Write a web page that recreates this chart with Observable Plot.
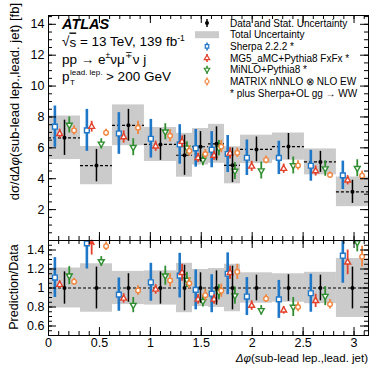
<!DOCTYPE html>
<html><head><meta charset="utf-8">
<script src="https://cdn.jsdelivr.net/npm/d3@7"></script>
<script src="https://cdn.jsdelivr.net/npm/@observablehq/plot@0.6"></script>
<style>
body{margin:0;background:#fff;}
#chart{position:relative;width:371px;height:365px;font-family:"Liberation Sans",Arial,Helvetica,sans-serif;overflow:hidden;background:#fff;}
#chart svg{position:absolute;left:0;overflow:visible;}
</style></head><body><div id="chart"></div>
<script>
// ---- data ----
const binEdges = [0, 0.314, 0.628, 0.942, 1.257, 1.414, 1.571, 1.728, 1.885, 2.199, 2.513, 2.827, 3.142];
const dataVal  = [6.65, 4.85, 7.46, 6.22, 5.52, 6.07, 6.26, 4.87, 5.90, 6.08, 5.09, 3.15];
const dataStat = [1.14, 1.05, 1.03, 1.03, 1.30, 0.98, 1.10, 1.12, 0.80, 0.85, 0.68, 0.75];
const dataTot  = [1.41, 1.24, 1.32, 1.10, 1.42, 1.18, 1.26, 1.20, 0.92, 0.88, 0.84, 0.96];
const ratioStat = [0.17, 0.22, 0.15, 0.17, 0.24, 0.16, 0.18, 0.23, 0.135, 0.14, 0.135, 0.22];
const ratioTot  = [0.21, 0.255, 0.175, 0.18, 0.26, 0.195, 0.205, 0.25, 0.16, 0.15, 0.165, 0.31];

const sherpaVal   = [7.37, 7.13, 6.93, 6.59, 6.22, 5.97, 5.88, 5.60, 5.36, 5.35, 4.84, 4.22];
const sherpaErr   = [1.34, 1.36, 1.35, 1.25, 1.28, 1.22, 1.17, 1.20, 1.15, 1.08, 1.00, 0.92];
const sherpaRatio = [1.11, 1.47, 0.93, 1.06, 1.13, 0.98, 0.94, 1.15, 0.91, 0.88, 0.945, 1.34];
const sherpaRErr  = [0.21, 0.27, 0.175, 0.20, 0.235, 0.21, 0.20, 0.22, 0.20, 0.20, 0.20, 0.29];

const mg5Val   = [6.91, 7.37, 6.70, 6.10, 6.40, 5.35, 5.50, 5.64, 4.80, 4.65, 4.50, 3.90];
const mg5Err   = [0.30, 0.35, 0.40, 0.33, 0.38, 0.30, 0.30, 0.36, 0.33, 0.30, 0.33, 0.30];
const mg5Ratio = [1.035, 1.52, 0.89, 0.985, 1.16, 0.88, 0.88, 1.16, 0.815, 0.765, 0.865, 1.27];
const mg5RErr  = [0.04, 0.07, 0.05, 0.05, 0.09, 0.05, 0.05, 0.07, 0.05, 0.04, 0.07, 0.13];

const minloVal   = [7.48, 6.26, 6.04, 7.04, 6.00, 5.22, 5.98, 4.50, 4.53, 4.86, 4.66, 4.68];
const minloErr   = [0.52, 0.33, 0.55, 0.52, 0.40, 0.38, 0.50, 0.55, 0.55, 0.55, 0.50, 0.55];
const minloRatio = [1.13, 1.28, 0.82, 1.13, 1.085, 0.86, 0.955, 0.92, 0.765, 0.80, 0.915, 1.48];
const minloRErr  = [0.095, 0.05, 0.08, 0.10, 0.08, 0.06, 0.08, 0.09, 0.05, 0.10, 0.10, 0.10];

const matrixVal   = [7.13, 6.98, 7.30, 6.78, 5.80, 5.60, 6.08, 5.68, 5.22, 4.86, 4.24, 4.20];
const matrixErr   = [0.30, 0.23, 0.43, 0.40, 0.35, 0.30, 0.40, 0.30, 0.25, 0.30, 0.20, 0.30];
const matrixRatio = [1.067, 1.44, 0.975, 1.08, 1.05, 0.925, 0.972, 1.17, 0.888, 0.80, 0.83, 1.33];
const matrixRErr  = [0.035, 0.045, 0.05, 0.07, 0.06, 0.06, 0.07, 0.08, 0.04, 0.05, 0.05, 0.11];

const xTickLabels = [0, 0.5, 1, 1.5, 2, 2.5, 3];
const yTopTickLabels = [2, 4, 6, 8, 10, 12, 14];
const yRatioTickLabels = [0.6, 0.8, 1, 1.2, 1.4];

const legendLabels = ["Data and Stat. Uncertainty", "Total Uncertainty", "Sherpa 2.2.2 *",
  "MG5_aMC+Pythia8 FxFx *", "MiNLO+Pythia8 *", "MATRIX nNNLO \u2297 NLO EW", "* plus Sherpa+OL gg \u2192 WW"];

// ---- style ----
const FONT = "'Liberation Sans', Arial, Helvetica, sans-serif";
const GRAY = "#cbcbcb";
const W = 371, ML = 48, MR = 3;
const TOP_H = 240, TOP_MT = 15;
const R_H = 125, R_MB = 30, R_TOP = 240;
const xDomain = [binEdges[0], binEdges[binEdges.length - 1]];
const yTopDomain = [0, 14.57];
const yRatioDomain = [0.5, 1.5];

const triDown = {draw(ctx, size) {
  const y = -Math.sqrt(size / (Math.sqrt(3) * 3));
  ctx.moveTo(0, -2 * y); ctx.lineTo(-Math.sqrt(3) * y, y); ctx.lineTo(Math.sqrt(3) * y, y); ctx.closePath();
}};

const series = [
  {name: legendLabels[2], val: sherpaVal, err: sherpaErr, ratio: sherpaRatio, rerr: sherpaRErr, color: "#1f77c8", symbol: "square", r: 2.7, off: -0.3, sw: 2.6},
  {name: legendLabels[3], val: mg5Val, err: mg5Err, ratio: mg5Ratio, rerr: mg5RErr, color: "#e3412b", symbol: "triangle", r: 2.2, off: -0.15, sw: 1.8},
  {name: legendLabels[4], val: minloVal, err: minloErr, ratio: minloRatio, rerr: minloRErr, color: "#2f8e2f", symbol: triDown, r: 2.2, off: 0.15, sw: 1.8},
  {name: legendLabels[5], val: matrixVal, err: matrixErr, ratio: matrixRatio, rerr: matrixRErr, color: "#f2863e", symbol: "circle", r: 2.3, off: 0.3, sw: 1.8}
];

const bins = dataVal.map((v, i) => ({
  x1: binEdges[i], x2: binEdges[i + 1], c: (binEdges[i] + binEdges[i + 1]) / 2, w: binEdges[i + 1] - binEdges[i],
  v, stat: dataStat[i], tot: dataTot[i], rstat: ratioStat[i], rtot: ratioTot[i]
}));
series.forEach(s => {
  s.pts = bins.map((b, i) => ({x: b.c + s.off * b.w, v: s.val[i], e: s.err[i], r: s.ratio[i], re: s.rerr[i]}));
});

const xMinor = d3.range(0, 3.15, 0.1);
function tickMarks(plotH, plotW, yMajor, yMinor) {
  const mj = 8, mn = 4;
  return [
    Plot.ruleX(xTickLabels, {x: d => d, insetTop: plotH - mj, stroke: "#000"}),
    Plot.ruleX(xTickLabels, {x: d => d, insetBottom: plotH - mj, stroke: "#000"}),
    Plot.ruleX(xMinor, {x: d => d, insetTop: plotH - mn, stroke: "#000"}),
    Plot.ruleX(xMinor, {x: d => d, insetBottom: plotH - mn, stroke: "#000"}),
    Plot.ruleY(yMajor, {y: d => d, insetRight: plotW - mj, stroke: "#000"}),
    Plot.ruleY(yMajor, {y: d => d, insetLeft: plotW - mj, stroke: "#000"}),
    Plot.ruleY(yMinor, {y: d => d, insetRight: plotW - mn, stroke: "#000"}),
    Plot.ruleY(yMinor, {y: d => d, insetLeft: plotW - mn, stroke: "#000"})
  ];
}
const plotW = W - ML - MR;

// ---- top panel ----
const topMarks = [
  Plot.rect(bins, {x1: "x1", x2: "x2", y1: d => d.v - d.tot, y2: d => d.v + d.tot, fill: GRAY}),
  Plot.ruleY(bins, {x1: "x1", x2: "x2", y: "v", stroke: "#000", strokeWidth: 1.2, strokeDasharray: "3,2"})
];
series.forEach(s => {
  topMarks.push(Plot.ruleX(s.pts, {x: "x", y1: d => d.v - d.e, y2: d => d.v + d.e, stroke: s.color, strokeWidth: s.sw}));
  topMarks.push(Plot.dot(s.pts, {x: "x", y: "v", symbol: s.symbol, r: s.r, stroke: s.color, fill: "white", strokeWidth: 1.4}));
});
topMarks.push(
  Plot.ruleX(bins, {x: "c", y1: d => d.v - d.stat, y2: d => d.v + d.stat, stroke: "#000", strokeWidth: 1.5}),
  Plot.dot(bins, {x: "c", y: "v", r: 2, fill: "#000"}),
  ...tickMarks(TOP_H - TOP_MT, plotW, d3.range(0, 14.6, 2), d3.range(0, 14.6, 0.5)),
  Plot.text(yTopTickLabels, {y: d => d, text: d => String(d), frameAnchor: "left", textAnchor: "end", dx: -4, fontSize: 12.5}),
  Plot.frame({stroke: "#000"})
);
const topPlot = Plot.plot({
  width: W, height: TOP_H, marginTop: TOP_MT, marginBottom: 0, marginLeft: ML, marginRight: MR,
  x: {domain: xDomain, axis: null}, y: {domain: yTopDomain, axis: null},
  style: {background: "transparent", overflow: "visible", fontFamily: FONT},
  marks: topMarks
});
topPlot.style.top = "0px";

// ---- ratio panel ----
const [rlo, rhi] = yRatioDomain;
const clampR = v => Math.max(rlo, Math.min(rhi, v));
const ratioMarks = [
  Plot.rect(bins, {x1: "x1", x2: "x2", y1: d => 1 - d.rtot, y2: d => 1 + d.rtot, fill: GRAY}),
  Plot.ruleY([1], {stroke: "#000", strokeWidth: 1.2, strokeDasharray: "3,2"})
];
series.forEach(s => {
  const inside = s.pts.filter(d => d.r <= rhi), above = s.pts.filter(d => d.r > rhi);
  ratioMarks.push(Plot.ruleX(inside, {x: "x", y1: d => clampR(d.r - d.re), y2: d => clampR(d.r + d.re), stroke: s.color, strokeWidth: s.sw}));
  ratioMarks.push(Plot.dot(inside, {x: "x", y: "r", symbol: s.symbol, r: s.r, stroke: s.color, fill: "white", strokeWidth: 1.4}));
  ratioMarks.push(Plot.arrow(above, {x1: "x", x2: "x", y1: rhi - 0.14, y2: rhi, stroke: s.color, strokeWidth: s.sw, headLength: 6}));
});
ratioMarks.push(
  Plot.ruleX(bins, {x: "c", y1: d => 1 - d.rstat, y2: d => 1 + d.rstat, stroke: "#000", strokeWidth: 1.5}),
  Plot.dot(bins, {x: "c", y: () => 1, r: 2, fill: "#000"}),
  ...tickMarks(R_H - R_MB, plotW, d3.range(0.6, 1.5, 0.2), d3.range(0.5, 1.5001, 0.05)),
  Plot.text(yRatioTickLabels, {y: d => d, text: d => String(d), frameAnchor: "left", textAnchor: "end", dx: -4, fontSize: 12.5}),
  Plot.text(xTickLabels, {x: d => d, text: d => String(d), frameAnchor: "bottom", lineAnchor: "top", dy: 3, fontSize: 12.5}),
  Plot.frame({stroke: "#000"})
);
const ratioPlot = Plot.plot({
  width: W, height: R_H, marginTop: 0, marginBottom: R_MB, marginLeft: ML, marginRight: MR,
  x: {domain: xDomain, axis: null}, y: {domain: yRatioDomain, axis: null},
  style: {background: "transparent", overflow: "visible", fontFamily: FONT},
  marks: ratioMarks
});
ratioPlot.style.top = R_TOP + "px";

const chart = document.getElementById("chart");
chart.appendChild(topPlot);
chart.appendChild(ratioPlot);

// ---- titles and legend overlay ----
const ov = d3.select(chart).append("svg").attr("width", W).attr("height", 365)
  .style("top", "0px").style("pointer-events", "none").style("font-family", FONT);

ov.append("text").attr("transform", "translate(14,3) rotate(-90)").attr("text-anchor", "end")
  .attr("dominant-baseline", "central").attr("font-size", 13)
  .html("d&#963;/d<tspan font-style='italic'>&#916;&#966;</tspan>(sub-lead lep.,lead. jet) [fb]");
ov.append("text").attr("transform", "translate(14,287) rotate(-90)").attr("text-anchor", "middle")
  .attr("dominant-baseline", "central").attr("font-size", 12.5).text("Prediction/Data");
ov.append("text").attr("x", 368).attr("y", 358).attr("text-anchor", "end")
  .attr("dominant-baseline", "central").attr("font-size", 11.5)
  .html("<tspan font-style='italic'>&#916;&#966;</tspan>(sub-lead lep.,lead. jet)");

// legend
const LX = 207, TX = 230, LY0 = 23, LDY = 11.7;
const lg = ov.append("g");
legendLabels.forEach((lab, i) => {
  lg.append("text").attr("x", TX).attr("y", LY0 + i * LDY).attr("dominant-baseline", "central")
    .attr("font-size", 10).text(lab);
});
lg.append("line").attr("x1", LX).attr("x2", LX).attr("y1", LY0 - 4).attr("y2", LY0 + 4).attr("stroke", "#000").attr("stroke-width", 1.5);
lg.append("circle").attr("cx", LX).attr("cy", LY0).attr("r", 2).attr("fill", "#000");
lg.append("rect").attr("x", LX - 12).attr("y", LY0 + LDY - 3.5).attr("width", 24).attr("height", 7).attr("fill", GRAY);
series.forEach((s, k) => {
  const y = LY0 + (k + 2) * LDY;
  lg.append("line").attr("x1", LX).attr("x2", LX).attr("y1", y - 4).attr("y2", y + 4).attr("stroke", s.color).attr("stroke-width", 1.6);
  const sym = typeof s.symbol === "string" ? {square: d3.symbolSquare, triangle: d3.symbolTriangle, circle: d3.symbolCircle}[s.symbol] : s.symbol;
  lg.append("path").attr("transform", `translate(${LX},${y})`)
    .attr("d", d3.symbol(sym, Math.PI * 2 * 2)()).attr("fill", "white").attr("stroke", s.color).attr("stroke-width", 1.2);
});

// ATLAS label block
const info = ov.append("g").attr("font-size", 13.5);
info.append("text").attr("x", 62).attr("y", 24).attr("dominant-baseline", "central")
  .attr("font-weight", "bold").attr("font-style", "italic").attr("font-size", 14.5).text("ATLAS");
info.append("text").attr("x", 62).attr("y", 41.5).attr("dominant-baseline", "central")
  .html("&#8730;<tspan text-decoration='overline'>s</tspan> = 13 TeV, 139 fb<tspan dy='-4' font-size='8.5'>-1</tspan>");
info.append("text").attr("x", 62).attr("y", 59).attr("dominant-baseline", "central")
  .html("pp &#8594; e<tspan dy='-4' font-size='8.5'>&#177;</tspan><tspan dy='4'>&#957;&#956;</tspan><tspan dy='-4' font-size='8.5'>&#8723;</tspan><tspan dy='4'>&#957; j</tspan>");
// p_T^{lead. lep.} > 200 GeV
const pT = info.append("g");
const pMain = pT.append("text").attr("x", 62).attr("y", 81).text("p");
const pw = pMain.node().getComputedTextLength();
const sup = pT.append("text").attr("x", 62 + pw + 0.5).attr("y", 75).attr("font-size", 8).text("lead. lep.");
pT.append("text").attr("x", 62 + pw + 0.5).attr("y", 85).attr("font-size", 8).text("T");
const sw = sup.node().getComputedTextLength();
pT.append("text").attr("x", 62 + pw + sw + 4).attr("y", 81).text("> 200 GeV");
</script></body></html>
